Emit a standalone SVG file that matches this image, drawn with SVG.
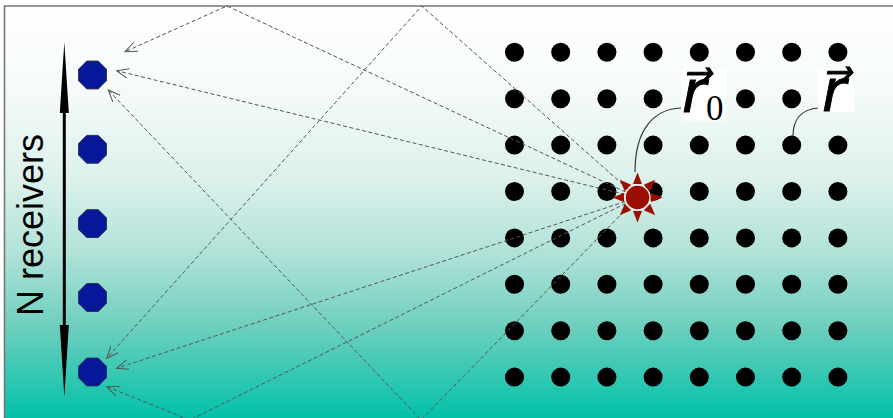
<svg xmlns="http://www.w3.org/2000/svg" xmlns:xlink="http://www.w3.org/1999/xlink" width="893" height="418" viewBox="0 0 893 418">
<defs>
<linearGradient id="bg" gradientUnits="userSpaceOnUse" x1="0" y1="6" x2="0" y2="418">
<stop offset="0" stop-color="#ffffff"/>
<stop offset="0.22" stop-color="#f4faf9"/>
<stop offset="0.42" stop-color="#dcf1ec"/>
<stop offset="0.6" stop-color="#b0e2d8"/>
<stop offset="0.78" stop-color="#6dcfbe"/>
<stop offset="1" stop-color="#02c1a9"/>
</linearGradient>
<marker id="ah" markerUnits="userSpaceOnUse" markerWidth="14" markerHeight="12" refX="12" refY="5" orient="auto">
<path d="M0,0 L12,5 L0,10" fill="none" stroke="#555" stroke-width="1"/>
</marker>
<circle id="d" r="9.5" fill="#000"/>
<polygon id="oct" points="13.9,5.8 5.8,13.9 -5.8,13.9 -13.9,5.8 -13.9,-5.8 -5.8,-13.9 5.8,-13.9 13.9,-5.8"/>
</defs>
<style>
.ray{fill:none;stroke:#555;stroke-width:1;stroke-dasharray:4 2.5;marker-end:url(#ah)}
.rcv{fill:#061899;stroke:#2a3050;stroke-width:1}
.lead{fill:none;stroke:#333;stroke-width:1.2}
.lbl{font-family:"Liberation Serif","DejaVu Serif","DejaVu Sans",serif;fill:#000}
.mi{font-style:italic;stroke:#000;stroke-width:0.9}
</style>
<rect x="0" y="0" width="893" height="418" fill="#fff"/>
<rect x="4.5" y="6" width="889" height="412" fill="url(#bg)"/>
<path d="M4.5,418 L4.5,6 L893,6" fill="none" stroke="#777" stroke-width="1.6"/>

<g id="grid">
<use href="#d" x="514.5" y="52.3"/><use href="#d" x="560.7" y="52.3"/><use href="#d" x="606.9" y="52.3"/><use href="#d" x="653.1" y="52.3"/><use href="#d" x="699.3" y="52.3"/><use href="#d" x="745.5" y="52.3"/><use href="#d" x="791.7" y="52.3"/><use href="#d" x="837.9" y="52.3"/>
<use href="#d" x="514.5" y="98.7"/><use href="#d" x="560.7" y="98.7"/><use href="#d" x="606.9" y="98.7"/><use href="#d" x="653.1" y="98.7"/><use href="#d" x="699.3" y="98.7"/><use href="#d" x="745.5" y="98.7"/><use href="#d" x="791.7" y="98.7"/><use href="#d" x="837.9" y="98.7"/>
<use href="#d" x="514.5" y="145.1"/><use href="#d" x="560.7" y="145.1"/><use href="#d" x="606.9" y="145.1"/><use href="#d" x="653.1" y="145.1"/><use href="#d" x="699.3" y="145.1"/><use href="#d" x="745.5" y="145.1"/><use href="#d" x="791.7" y="145.1"/><use href="#d" x="837.9" y="145.1"/>
<use href="#d" x="514.5" y="191.5"/><use href="#d" x="560.7" y="191.5"/><use href="#d" x="606.9" y="191.5"/><use href="#d" x="653.1" y="191.5"/><use href="#d" x="699.3" y="191.5"/><use href="#d" x="745.5" y="191.5"/><use href="#d" x="791.7" y="191.5"/><use href="#d" x="837.9" y="191.5"/>
<use href="#d" x="514.5" y="237.9"/><use href="#d" x="560.7" y="237.9"/><use href="#d" x="606.9" y="237.9"/><use href="#d" x="653.1" y="237.9"/><use href="#d" x="699.3" y="237.9"/><use href="#d" x="745.5" y="237.9"/><use href="#d" x="791.7" y="237.9"/><use href="#d" x="837.9" y="237.9"/>
<use href="#d" x="514.5" y="284.3"/><use href="#d" x="560.7" y="284.3"/><use href="#d" x="606.9" y="284.3"/><use href="#d" x="653.1" y="284.3"/><use href="#d" x="699.3" y="284.3"/><use href="#d" x="745.5" y="284.3"/><use href="#d" x="791.7" y="284.3"/><use href="#d" x="837.9" y="284.3"/>
<use href="#d" x="514.5" y="330.7"/><use href="#d" x="560.7" y="330.7"/><use href="#d" x="606.9" y="330.7"/><use href="#d" x="653.1" y="330.7"/><use href="#d" x="699.3" y="330.7"/><use href="#d" x="745.5" y="330.7"/><use href="#d" x="791.7" y="330.7"/><use href="#d" x="837.9" y="330.7"/>
<use href="#d" x="514.5" y="377.1"/><use href="#d" x="560.7" y="377.1"/><use href="#d" x="606.9" y="377.1"/><use href="#d" x="653.1" y="377.1"/><use href="#d" x="699.3" y="377.1"/><use href="#d" x="745.5" y="377.1"/><use href="#d" x="791.7" y="377.1"/><use href="#d" x="837.9" y="377.1"/>
</g>

<g id="connectors">
<path class="ray" d="M637.5,197.5 L116.7,70.7"/>
<path class="ray" d="M637.5,197.5 L116.7,368.3"/>
<path class="ray" d="M637.5,197.5 L227,6 L125,51.7"/>
<path class="ray" d="M637.5,197.5 L421.7,6 L106.7,358.3"/>
<path class="ray" d="M637.5,197.5 L190,420 L106.7,386.7"/>
<path class="ray" d="M637.5,197.5 L421,420 L108.3,90"/>
<path class="lead" d="M681,108 C655,109 635,128 635,172"/>
<path class="lead" d="M819,108 C801,109 793,120 793,136"/>
</g>

<g id="axis">
<rect x="62.8" y="112" width="3" height="214" fill="#000"/>
<polygon points="64.3,42 68.8,113 59.8,113" fill="#000"/>
<polygon points="64.3,397 68.8,325 59.8,325" fill="#000"/>
<text transform="translate(43,225) rotate(-90)" text-anchor="middle" font-family="Liberation Sans, Arial, sans-serif" font-size="36" fill="#000">N receivers</text>
</g>

<g id="receivers">
<use id="rcv1" class="rcv" href="#oct" x="92.5" y="75"/>
<use id="rcv2" class="rcv" href="#oct" x="92.5" y="149.3"/>
<use id="rcv3" class="rcv" href="#oct" x="92.5" y="223.6"/>
<use id="rcv4" class="rcv" href="#oct" x="92.5" y="297.5"/>
<use id="rcv5" class="rcv" href="#oct" x="92.5" y="372"/>
</g>

<g id="source" fill="#9b0e00">
<polygon points="637.5,172.5 642,184 633,184"/>
<polygon points="637.5,222.5 642,211 633,211"/>
<polygon points="612.5,197.5 624,193 624,202"/>
<polygon points="662.5,197.5 651,193 651,202"/>
<g transform="rotate(45 637.5 197.5)">
<polygon points="637.5,172.5 642,184 633,184"/>
<polygon points="637.5,222.5 642,211 633,211"/>
<polygon points="612.5,197.5 624,193 624,202"/>
<polygon points="662.5,197.5 651,193 651,202"/>
</g>
<circle cx="637.5" cy="197.5" r="12.5" stroke="#f4e8e6" stroke-width="1.5"/>
</g>

<g id="label-r0">
<rect x="681" y="70" width="45" height="50.5" fill="#fff"/>
<text class="lbl"><tspan class="mi" x="682" y="112" font-size="58">r&#x20D7;</tspan><tspan x="706" y="120" font-size="35">0</tspan></text>
</g>

<g id="label-r">
<rect x="818" y="70" width="36" height="42" fill="#fff"/>
<text class="lbl"><tspan class="mi" x="822" y="111" font-size="58">r&#x20D7;</tspan></text>
</g>
</svg>
